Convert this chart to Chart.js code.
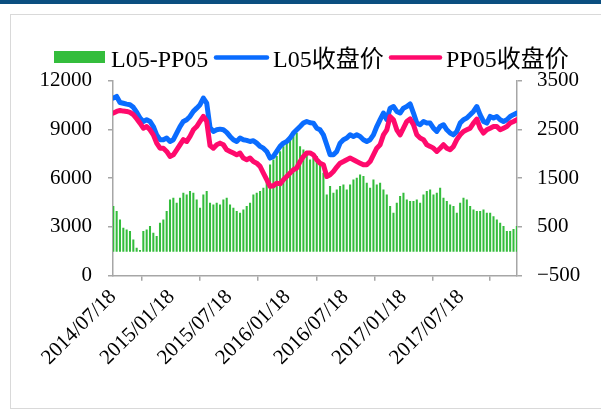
<!DOCTYPE html>
<html><head><meta charset="utf-8">
<script src="https://cdn.jsdelivr.net/npm/chart.js@4/dist/chart.umd.min.js"></script>
<style>
html,body{margin:0;padding:0;background:#fff;}
#wrap{position:relative;width:601px;height:410px;overflow:hidden;background:#fff;}
#topbar{position:absolute;left:0;top:0;width:601px;height:4px;background:#0b4f80;}
#frame{position:absolute;left:10px;top:14px;width:600px;height:395px;border:1.5px solid #d9d9d9;box-sizing:border-box;}
canvas{position:absolute;left:0;top:0;}
</style></head><body>
<div id="wrap"><div id="topbar"></div><div id="frame"></div><canvas id="c" width="601" height="410"></canvas></div>
<script>
// tick labels (calendar days after 2014/07/18)
const tickDays = [0, 184, 365, 549, 731, 915, 1096];
const tickLabels = ['2014/07/18','2015/01/18','2015/07/18','2016/01/18','2016/07/18','2017/01/18','2017/07/18'];
const seriesNames = ['L05-PP05', 'L05收盘价', 'PP05收盘价'];

// L05-PP05 spread (right axis)
const spread = [919,817,647,477,442,408,237,67,20,408,
442,510,374,305,579,647,817,1056,1091,988,
1091,1193,1159,1227,1193,1056,886,1159,1227,988,
954,988,954,1056,1091,954,886,817,784,851,
920,988,1159,1193,1227,1296,1466,1773,1876,1944,
2046,2148,2216,2319,2353,2420,2148,2080,2012,1876,
1910,1944,1773,1603,1159,1330,1193,1261,1330,1364,
1261,1364,1466,1500,1569,1534,1398,1296,1466,1364,
1398,1261,1159,919,784,988,1125,1193,1056,1022,
1022,1056,988,1159,1227,1261,1159,1193,1296,1091,
1022,954,920,784,988,1091,1056,920,851,817,
817,851,784,784,714,647,579,510,408,408,
450,510];

// L05 close (left axis)
const l05 = [10920,11020,10650,10600,10550,10510,10350,10050,9690,9480,
9590,9480,9170,8660,8360,8360,8460,8250,8360,8770,
9170,9480,9590,9790,10100,10300,10510,10920,10610,9100,
8870,8970,9010,8970,8810,8560,8360,8250,8460,8360,
8320,8250,8300,8150,7950,7840,7640,7230,7330,7640,
7950,8150,8250,8460,8770,8970,9170,9380,9480,9400,
9380,9070,8970,8660,8050,7430,7430,7640,8150,8360,
8460,8660,8560,8660,8560,8360,8250,8360,8660,9170,
9590,10000,9590,10300,10400,10100,10000,10300,10400,10560,
10000,9380,9280,9480,9380,9380,9070,8870,9170,9280,
8970,8770,8660,8870,9380,9590,9690,9890,10100,10400,
9890,9480,9380,9790,9690,9790,9590,9480,9590,9790,
9900,10000];

// PP05 close (left axis)
const pp05 = [10000,10100,10160,10120,10100,10040,9900,9650,9380,9070,
9170,8970,8660,8150,7840,7840,7640,7330,7430,7740,
8050,8360,8250,8560,8970,9170,9480,9790,9480,8000,
7840,8050,8150,8050,7740,7640,7540,7430,7540,7230,
7130,7230,7020,6920,6720,6310,5900,5490,5530,5690,
5650,5900,6100,6310,6510,6620,7020,7330,7540,7550,
7430,7130,6920,6820,6100,6210,6410,6680,6920,7020,
7130,7230,7130,7020,6920,6820,6820,7020,7430,7840,
8050,8660,8970,9790,9590,8970,8660,9070,9480,9640,
9280,8660,8460,8360,8050,7950,7840,7640,7840,8050,
7840,7740,7950,8360,8660,8870,8970,9070,9380,9630,
9070,8770,8970,9070,9170,9170,8970,9070,9170,9380,
9480,9590];

// sampled trading days (days after 2014/07/18)
const SAMPLE_START = 1, SAMPLE_STEP = 10.5;
const days = l05.map((_, i) => SAMPLE_START + i * SAMPLE_STEP);

const FONT = "'Liberation Serif','Noto Sans CJK SC',serif";
const AXIS_COLOR = '#a6a6a6';
const plain = v => (v < 0 ? '\u2212' + Math.abs(v) : String(v));

const legendPlugin = {
  id: 'customLegend',
  afterDraw(chart) {
    const ctx = chart.ctx;
    const ds = chart.data.datasets;
    const items = [
      {i: 0, sx: 54, sw: 51, tx: 111},
      {i: 1, sx: 214, sw: 55, tx: 273},
      {i: 2, sx: 389, sw: 53, tx: 446}
    ];
    ctx.save();
    ctx.font = "24px " + FONT;
    ctx.textBaseline = 'alphabetic';
    items.forEach(it => {
      const d = ds[it.i];
      if (d.type === 'bar') {
        ctx.fillStyle = d.backgroundColor;
        ctx.fillRect(it.sx, 51, it.sw, 12);
      } else {
        ctx.strokeStyle = d.borderColor;
        ctx.lineWidth = 4.5;
        ctx.lineCap = 'round';
        ctx.beginPath();
        ctx.moveTo(it.sx + 2, 57.5);
        ctx.lineTo(it.sx + it.sw - 2, 57.5);
        ctx.stroke();
      }
      ctx.fillStyle = '#000';
      ctx.fillText(d.label, it.tx, 67);
    });
    ctx.restore();
  }
};

new Chart(document.getElementById('c'), {
  type: 'bar',
  data: {
    datasets: [
      {type: 'bar', label: seriesNames[0], data: days.map((d, i) => ({x: d, y: spread[i]})),
       backgroundColor: '#34bd3c', barThickness: 1.4, yAxisID: 'y1', xAxisID: 'x', order: 3},
      {type: 'line', label: seriesNames[1], data: days.map((d, i) => ({x: d, y: l05[i]})),
       borderColor: '#0a6cff', backgroundColor: '#0a6cff', borderWidth: 5, pointRadius: 0,
       borderJoinStyle: 'round', borderCapStyle: 'round', tension: 0, yAxisID: 'y', xAxisID: 'x', order: 2},
      {type: 'line', label: seriesNames[2], data: days.map((d, i) => ({x: d, y: pp05[i]})),
       borderColor: '#ff0a6c', backgroundColor: '#ff0a6c', borderWidth: 5, pointRadius: 0,
       borderJoinStyle: 'round', borderCapStyle: 'round', tension: 0, yAxisID: 'y', xAxisID: 'x', order: 1}
    ]
  },
  options: {
    responsive: false, animation: false, devicePixelRatio: 1, events: [],
    layout: {padding: {top: 80.5, left: 0, right: 0, bottom: 0}},
    plugins: {legend: {display: false}, tooltip: {enabled: false}},
    scales: {
      x: {
        type: 'linear', min: 0, max: 1272, offset: false,
        afterBuildTicks(s) { s.ticks = tickDays.map(v => ({value: v})); },
        ticks: {autoSkip: false, maxRotation: 45, minRotation: 45, color: '#000',
          font: {family: FONT, size: 21}, padding: 4,
          callback(v) { const k = tickDays.indexOf(v); return k >= 0 ? tickLabels[k] : ''; }},
        grid: {drawOnChartArea: false, tickLength: 5, color: AXIS_COLOR, lineWidth: 1.5},
        border: {color: AXIS_COLOR, width: 1.5},
        afterFit(s) { s.height = 134.3; }
      },
      y: {
        position: 'left', min: 0, max: 12000,
        ticks: {stepSize: 3000, color: '#000', font: {family: FONT, size: 21}, padding: 16, callback: plain},
        grid: {drawOnChartArea: false, tickLength: 5, color: AXIS_COLOR, lineWidth: 1.5},
        border: {color: AXIS_COLOR, width: 1.5},
        afterFit(s) { s.width = 113; }
      },
      y1: {
        position: 'right', min: -500, max: 3500,
        ticks: {stepSize: 1000, color: '#000', font: {family: FONT, size: 21}, padding: 15, callback: plain},
        grid: {drawOnChartArea: false, tickLength: 5, color: AXIS_COLOR, lineWidth: 1.5},
        border: {color: AXIS_COLOR, width: 1.5},
        afterFit(s) { s.width = 84; }
      }
    }
  },
  plugins: [legendPlugin]
});
</script>
</body></html>
